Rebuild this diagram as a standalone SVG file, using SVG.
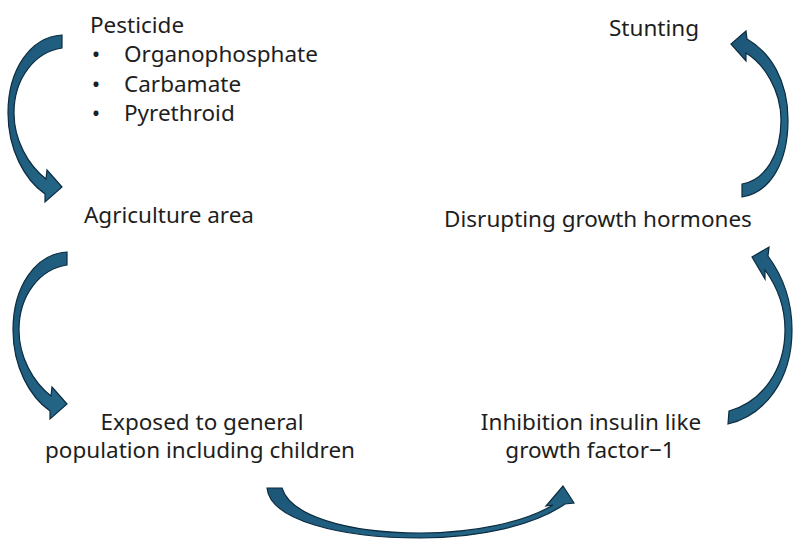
<svg xmlns="http://www.w3.org/2000/svg" width="799" height="545" viewBox="0 0 799 545">
  <defs>
    <linearGradient id="arrowFill" x1="0" y1="0" x2="1" y2="1">
      <stop offset="0" stop-color="#1c5677"/>
      <stop offset="1" stop-color="#256788"/>
    </linearGradient>
  </defs>
  <style>
    .lbl { font-family: "Noto Sans", "Liberation Sans", sans-serif; font-size: 22.5px; fill: #1e1e1e; }
    .mid { text-anchor: middle; }
    .arrow { fill: url(#arrowFill); stroke: #0c2c40; stroke-width: 1.2; stroke-linejoin: miter; }
  </style>
  <rect width="799" height="545" fill="#ffffff"/>

  <g id="connectors">
    <path class="arrow" d="M62,35 C30,37 8,70 8,113 C8,150 25,180 45,194 L45,202 L62,187 L47,170 L46,179 C28,165 14,140 14,113 C14,78 35,52 62,48 Z"/>
    <path class="arrow" transform="translate(5,217)" d="M62,35 C30,37 8,70 8,113 C8,150 25,180 45,194 L45,202 L62,187 L47,170 L46,179 C28,165 14,140 14,113 C14,78 35,52 62,48 Z"/>
    <path class="arrow" d="M267,488 C270,520 340,538 420,538 C480,538 535,525 565,504 L574,503 L563,486 L546,506 L553,505 C525,522 475,533 420,533 C345,533 290,515 282,488 Z"/>
    <path class="arrow" d="M728,424 C765,415 792,380 792,330 C792,300 782,275 768,256 L769,247 L752,257 L765,279 L765,270 C776,285 785,305 785,330 C785,370 762,402 729,411 Z"/>
    <path class="arrow" d="M742,197 C772,192 788,160 788,120 C788,80 770,52 747,39 L746,31 L731,44 L746,61 L746,53 C764,64 781,90 781,120 C781,155 765,180 742,184 Z"/>
  </g>

  <g id="node-pesticide">
    <text class="lbl" x="90" y="33">Pesticide</text>
    <text class="lbl mid" x="96" y="62">•</text>
    <text class="lbl" x="124" y="62">Organophosphate</text>
    <text class="lbl mid" x="96" y="92">•</text>
    <text class="lbl" x="124" y="92">Carbamate</text>
    <text class="lbl mid" x="96" y="121">•</text>
    <text class="lbl" x="124" y="121">Pyrethroid</text>
  </g>

  <g id="node-agriculture">
    <text class="lbl mid" x="169" y="223">Agriculture area</text>
  </g>

  <g id="node-exposed">
    <text class="lbl mid" x="202" y="430">Exposed to general</text>
    <text class="lbl mid" x="200" y="458">population including children</text>
  </g>

  <g id="node-inhibition">
    <text class="lbl mid" x="591" y="430">Inhibition insulin like</text>
    <text class="lbl mid" x="590" y="458">growth factor−1</text>
  </g>

  <g id="node-disrupting">
    <text class="lbl mid" x="598" y="227">Disrupting growth hormones</text>
  </g>

  <g id="node-stunting">
    <text class="lbl mid" x="654" y="36">Stunting</text>
  </g>
</svg>
